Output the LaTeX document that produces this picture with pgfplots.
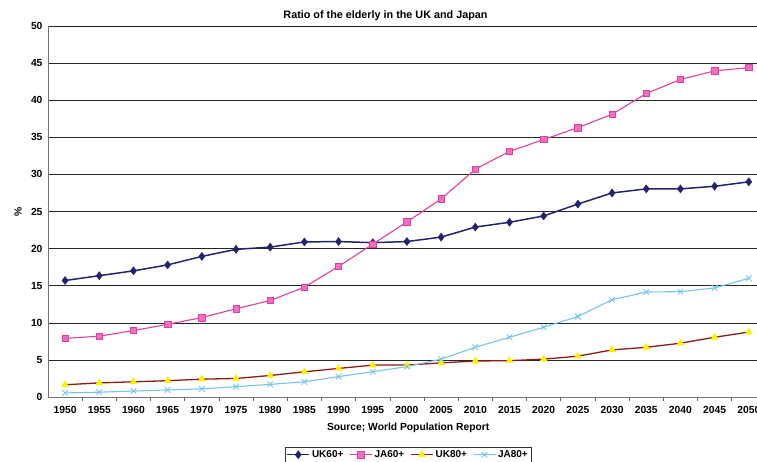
\documentclass[border=0pt]{standalone}
\usepackage{pgfplots}
\pgfplotsset{compat=1.18}
\usepackage{fontspec}
\setmainfont{Liberation Sans}
\definecolor{ukA}{HTML}{24246E}
\definecolor{jaA}{HTML}{E0409C}
\definecolor{jaAfill}{HTML}{F070C0}
\definecolor{ukB}{HTML}{8A1C1C}
\definecolor{ukBmark}{HTML}{FFF200}
\definecolor{jaB}{HTML}{78C4E8}
\begin{document}
\begin{tikzpicture}
\begin{axis}[
  name=ax,
  at={(0,0)}, anchor=south west,
  scale only axis,
  width=709pt, height=371pt,
  xmin=1947.5, xmax=2051.2,
  ymin=0, ymax=50,
  xtick={1950,1955,...,2050},
  minor x tick num=1,
  ytick={0,5,...,50},
  major tick length=0pt,
  minor tick length=4pt,
  tick align=outside,
  axis lines*=left,
  axis line style={draw=black!55, line width=0.8pt},
  every minor tick/.append style={draw=black!60, line width=0.7pt},
  ymajorgrids,
  major grid style={draw=black!85, line width=0.6pt},
  font=\fontsize{10.3}{12}\selectfont\bfseries,
  /pgf/number format/assume math mode=true,
  /pgf/number format/1000 sep={},
  xticklabel style={yshift=-6pt},
  yticklabel style={xshift=-2pt},
  title={Ratio of the elderly in the UK and Japan},
  title style={at={(axis description cs:0.476,1)}, anchor=center, yshift=4pt,
    font=\fontsize{10.8}{12}\selectfont\bfseries},
  xlabel={Source; World Population Report},
  xlabel style={at={(axis description cs:0.508,0)}, anchor=center, yshift=-31pt},
  ylabel={\%},
  ylabel style={at={(axis description cs:0,0.5)}, anchor=center, yshift=30pt},
  legend columns=-1,
  legend style={at={(axis description cs:0.508,0)}, anchor=north, yshift=-50pt,
    draw=black!80, line width=0.6pt, inner sep=1.2pt,
    font=\fontsize{10}{11}\selectfont\bfseries,
    /tikz/every even column/.append style={column sep=4pt}},
  legend image code/.code={
    \draw[mark repeat=2,mark phase=2] plot coordinates {(0pt,0pt)(11pt,0pt)(22pt,0pt)};},
]
% UK, share of population aged 60 and over
\addplot[ukA, line width=1.5pt, mark=diamond*, mark size=4pt,
  mark options={fill=ukA, draw=ukA, line width=0.5pt}] coordinates {
  (1950,15.7) (1955,16.35) (1960,17.0) (1965,17.8) (1970,18.95)
  (1975,19.9) (1980,20.2) (1985,20.9) (1990,20.95) (1995,20.8)
  (2000,20.95) (2005,21.55) (2010,22.9) (2015,23.55) (2020,24.4)
  (2025,26.0) (2030,27.5) (2035,28.05) (2040,28.05) (2045,28.4) (2050,29.0)};
\addlegendentry{UK60+}
% Japan, share of population aged 60 and over
\addplot[jaA, line width=1.1pt, mark=square*, mark size=3.2pt,
  mark options={fill=jaAfill, draw=jaA, line width=0.6pt}] coordinates {
  (1950,7.9) (1955,8.2) (1960,8.95) (1965,9.8) (1970,10.7)
  (1975,11.9) (1980,13.0) (1985,14.8) (1990,17.6) (1995,20.6)
  (2000,23.6) (2005,26.7) (2010,30.7) (2015,33.1) (2020,34.7)
  (2025,36.3) (2030,38.1) (2035,40.9) (2040,42.8) (2045,43.95) (2050,44.4)};
\addlegendentry{JA60+}
% UK, share of population aged 80 and over
\addplot[ukB, line width=1.3pt, mark=triangle*, mark size=4pt,
  mark options={fill=ukBmark, draw=ukBmark, line width=0.5pt}] coordinates {
  (1950,1.65) (1955,1.9) (1960,2.05) (1965,2.2) (1970,2.4)
  (1975,2.5) (1980,2.9) (1985,3.4) (1990,3.85) (1995,4.3)
  (2000,4.3) (2005,4.6) (2010,4.85) (2015,4.9) (2020,5.1)
  (2025,5.5) (2030,6.35) (2035,6.7) (2040,7.25) (2045,8.05) (2050,8.75)};
\addlegendentry{UK80+}
% Japan, share of population aged 80 and over
\addplot[jaB, line width=1.1pt, mark=x, mark size=4pt,
  mark options={draw=jaB, line width=0.9pt}] coordinates {
  (1950,0.55) (1955,0.65) (1960,0.8) (1965,0.95) (1970,1.1)
  (1975,1.4) (1980,1.7) (1985,2.05) (1990,2.75) (1995,3.4)
  (2000,4.1) (2005,5.1) (2010,6.7) (2015,8.05) (2020,9.4)
  (2025,10.85) (2030,13.1) (2035,14.15) (2040,14.2) (2045,14.7) (2050,16.0)};
\addlegendentry{JA80+}
\end{axis}
\pgfresetboundingbox
\path[use as bounding box] (-48pt,-64pt) rectangle (709pt,397pt);
\end{tikzpicture}
\end{document}
